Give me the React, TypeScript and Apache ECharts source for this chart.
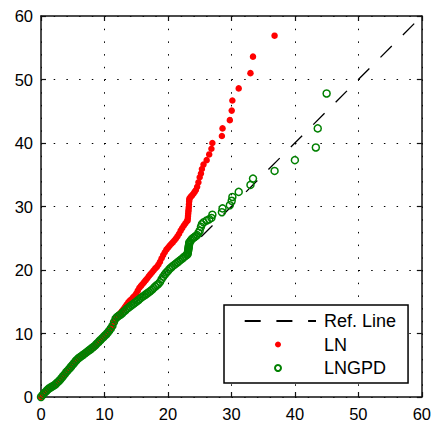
import React, { useEffect, useRef } from "react";
import * as echarts from "echarts";

// Empirical quantiles (x) shared by both fitted models
const empirical = [
  0, 0.25, 0.5, 0.75, 1, 1.25, 1.5, 1.75, 2, 2.25, 2.5, 2.75, 3, 3.25, 3.5, 3.75,
  4, 4.25, 4.5, 4.75, 5, 5.25, 5.5, 5.75, 6, 6.25, 6.5, 6.75, 7, 7.25, 7.5, 7.75,
  8, 8.25, 8.5, 8.75, 9, 9.25, 9.5, 9.75, 10, 10.25, 10.5, 10.75, 11, 11.25, 11.5, 11.75,
  12, 12.25, 12.5, 12.75, 13, 13.25, 13.5, 13.75, 14, 14.25, 14.5, 14.75, 15, 15.25, 15.5, 15.75,
  16, 16.25, 16.5, 16.75, 17, 17.25, 17.5, 17.75, 18, 18.25, 18.5, 18.75, 19, 19.25, 19.5, 19.75,
  20, 20.25, 20.5, 20.75, 21, 21.25, 21.5, 21.75, 22, 22.25, 22.5, 22.75, 23,
  23.1, 23.13, 23.16, 23.19, 23.22, 23.25, 23.28, 23.31, 23.34, 23.37, 23.4,
  23.6, 23.8, 24, 24.2, 24.4, 24.6, 24.8, 25,
  25.2, 25.35, 25.6, 26.1, 26.5, 26.85, 27.0, 28.5, 28.6, 29.75, 30.05, 30.15, 31.15,
  33.0, 33.4, 36.8, 40.0, 43.3, 43.6, 45.0,
];

// LN model quantiles (null = beyond the plotted range)
const lnQuantiles = [
  0, 0.33, 0.6, 0.85, 1.1, 1.33, 1.5, 1.65, 1.8, 1.97, 2.2, 2.45, 2.7, 3.0, 3.3, 3.6,
  3.95, 4.2, 4.5, 4.8, 5.1, 5.4, 5.7, 5.95, 6.18, 6.35, 6.55, 6.72, 6.9, 7.1, 7.2, 7.38,
  7.55, 7.75, 8.0, 8.35, 8.6, 8.85, 9.1, 9.35, 9.6, 9.85, 10.12, 10.45, 10.8, 11.2, 11.8, 12.35,
  12.7, 12.95, 13.2, 13.55, 13.85, 14.2, 14.55, 14.9, 15.2, 15.4, 15.7, 15.95, 16.3, 16.75, 17.2, 17.5,
  17.8, 18.1, 18.4, 18.7, 19.05, 19.35, 19.65, 19.95, 20.25, 20.5, 20.85, 21.3, 21.85, 22.35, 22.8, 23.2,
  23.5, 23.8, 24.1, 24.35, 24.65, 24.95, 25.3, 25.7, 26.2, 26.6, 27.0, 27.35, 27.7,
  27.8, 28.15, 28.5, 28.85, 29.2, 29.5, 29.9, 30.35, 30.8, 31.1, 31.3,
  31.55, 31.75, 32.0, 32.3, 32.6, 33.1, 33.8, 34.6,
  35.2, 35.9, 36.6, 37.3, 38.2, 39.1, 40.0, 41.1, 42.3, 43.6, 45.1, 46.7, 48.6,
  51.0, 53.6, 56.9, null, null, null, null,
];

// LNGPD model quantiles
const lngpdQuantiles = [
  0, 0.33, 0.6, 0.85, 1.1, 1.33, 1.5, 1.65, 1.8, 1.97, 2.2, 2.45, 2.7, 3.0, 3.3, 3.6,
  3.95, 4.2, 4.5, 4.8, 5.1, 5.4, 5.7, 5.95, 6.18, 6.35, 6.55, 6.72, 6.9, 7.1, 7.3, 7.48,
  7.67, 7.87, 8.1, 8.35, 8.6, 8.85, 9.1, 9.35, 9.6, 9.85, 10.12, 10.45, 10.8, 11.2, 11.8, 12.35,
  12.6, 12.8, 12.95, 13.15, 13.4, 13.6, 13.85, 14.05, 14.25, 14.45, 14.6, 14.8, 15.0, 15.2, 15.4, 15.6,
  15.8, 15.97, 16.15, 16.33, 16.5, 16.7, 16.9, 17.15, 17.4, 17.6, 17.8, 18.1, 18.55, 18.95, 19.3, 19.6,
  19.85, 20.15, 20.4, 20.6, 20.8, 21.0, 21.2, 21.4, 21.6, 21.8, 22.0, 22.2, 22.4,
  22.5, 22.7, 22.9, 23.1, 23.3, 23.5, 23.7, 23.9, 24.1, 24.25, 24.4,
  24.65, 24.9, 25.05, 25.2, 25.35, 25.5, 25.85, 26.2,
  26.8, 27.2, 27.5, 27.8, 28.0, 28.2, 28.7, 29.1, 29.7, 30.2, 30.9, 31.5, 32.3,
  33.4, 34.4, 35.6, 37.3, 39.3, 42.3, 47.8,
];

// Reference line y = x
const refLine = [
  [0, 0],
  [60, 60],
];

const axisTicks = { min: 0, max: 60, interval: 10 };
const FONT = "'Liberation Sans', Arial, sans-serif";

export default function App() {
  const ref = useRef<HTMLDivElement>(null);

  useEffect(() => {
    if (!ref.current) return;
    const chart = echarts.init(ref.current, null, { renderer: "svg" });

    const lnData = empirical
      .map((x, i) => [x, lnQuantiles[i]])
      .filter((p) => p[1] !== null);
    const gpdData = empirical.map((x, i) => [x, lngpdQuantiles[i]]);

    const frame = { show: true, onZero: false, lineStyle: { color: "#111", width: 1.5 } };
    const tick = { show: true, inside: true, length: 5, lineStyle: { color: "#111", width: 1.2 } };
    const grid = {
      show: true,
      lineStyle: { color: "#000", width: 1, type: [1.5, 11.2] },
    };
    const label = { color: "#000", fontSize: 16.5, fontFamily: FONT, margin: 8 };

    chart.setOption({
      animation: false,
      backgroundColor: "#fff",
      grid: { left: 41, right: 12, top: 16, bottom: 31, containLabel: false },
      xAxis: [
        {
          type: "value",
          position: "bottom",
          ...axisTicks,
          axisLine: frame,
          axisTick: tick,
          splitLine: grid,
          axisLabel: label,
        },
        {
          type: "value",
          position: "top",
          ...axisTicks,
          axisLine: frame,
          axisTick: tick,
          splitLine: { show: false },
          axisLabel: { show: false },
        },
      ],
      yAxis: [
        {
          type: "value",
          position: "left",
          ...axisTicks,
          axisLine: frame,
          axisTick: tick,
          splitLine: grid,
          axisLabel: label,
        },
        {
          type: "value",
          position: "right",
          ...axisTicks,
          axisLine: frame,
          axisTick: tick,
          splitLine: { show: false },
          axisLabel: { show: false },
        },
      ],
      legend: {
        orient: "vertical",
        left: 224,
        top: 305,
        padding: [7, 12, 6, 15],
        itemWidth: 76,
        itemHeight: 6,
        itemGap: 5.5,
        borderColor: "#000",
        borderWidth: 1.5,
        borderRadius: 0,
        backgroundColor: "#fff",
        selectedMode: false,
        textStyle: { fontSize: 18, fontFamily: FONT, color: "#000", padding: [0, 0, 0, 3] },
        data: [
          { name: "Ref. Line", itemStyle: { opacity: 0 } },
          { name: "LN" },
          { name: "LNGPD" },
        ],
      },
      series: [
        {
          name: "Ref. Line",
          type: "line",
          data: refLine,
          symbol: "none",
          z: 1,
          lineStyle: { color: "#000", width: 1.3, type: [16, 15.7], dashOffset: 27.4 },
          itemStyle: { color: "#000" },
        },
        {
          name: "LN",
          type: "scatter",
          data: lnData,
          symbol: "circle",
          symbolSize: 6.5,
          z: 2,
          itemStyle: { color: "#ff0000", opacity: 1 },
        },
        {
          name: "LNGPD",
          type: "scatter",
          data: gpdData,
          symbol: "circle",
          symbolSize: 7,
          z: 3,
          itemStyle: { color: "rgba(0,0,0,0)", borderColor: "#008000", borderWidth: 1.5, opacity: 1 },
        },
      ],
    });

    return () => chart.dispose();
  }, []);

  return (
    <div
      ref={ref}
      style={{ position: "fixed", left: 0, top: 0, width: 434, height: 428, background: "#fff" }}
    />
  );
}
